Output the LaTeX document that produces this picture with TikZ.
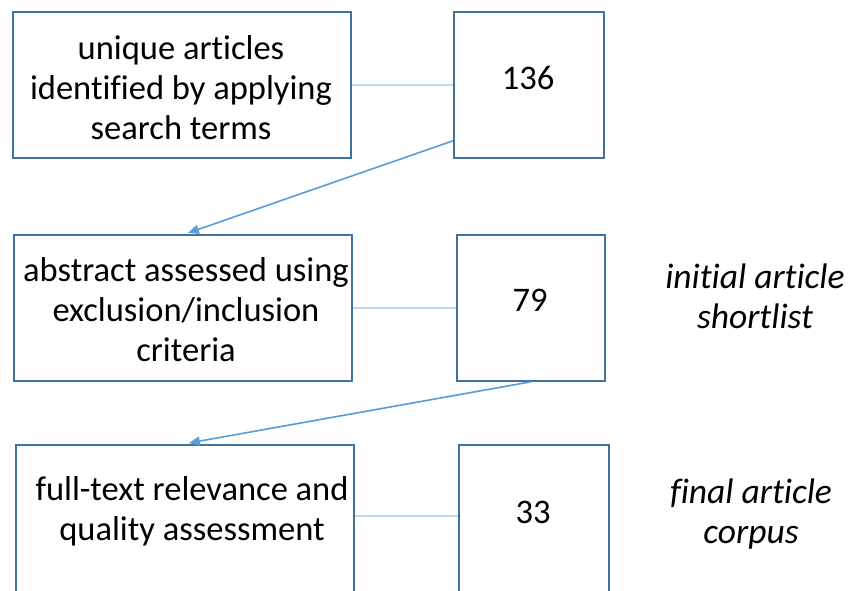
\documentclass[tikz,border=0pt]{standalone}
\usepackage{fontspec}
\setmainfont{Carlito}[Ligatures={NoCommon,NoRare,NoContextual},RawFeature={-liga;-clig;-calt;-dlig}]
\usetikzlibrary{arrows.meta,calc}
\definecolor{boxline}{HTML}{41719C}
\definecolor{arrowc}{HTML}{5B9BD5}
\definecolor{lightc}{HTML}{BDD7EE}
\tikzset{
  box/.style={draw=boxline,line width=1.8pt,minimum width=#1,inner sep=0pt,anchor=north west},
  txt/.style={font=\fontsize{34.5}{40}\selectfont,align=center,inner sep=0pt},
  side/.style={font=\fontsize{35.5}{40}\selectfont\itshape,align=center,inner sep=0pt},
  link/.style={draw=lightc,line width=1.6pt},
  flow/.style={draw=arrowc,line width=1.6pt,-{Triangle[length=11pt,width=9pt]}}
}
\begin{document}
\begin{tikzpicture}[x=1pt,y=-1pt]
\useasboundingbox (0,0) rectangle (856,590);
\clip (0,0) rectangle (856,590);
% boxes
\node[box=338pt,minimum height=146pt] (b1) at (12,11) {};
\node[box=150pt,minimum height=146pt] (n1) at (453,11) {};
\node[box=338pt,minimum height=146pt] (b2) at (13,234) {};
\node[box=148pt,minimum height=146pt] (n2) at (456,234) {};
\node[box=338pt,minimum height=160pt] (b3) at (15,444) {};
\node[box=150pt,minimum height=160pt] (n3) at (458,444) {};
% texts
\node[txt] (t1) at (181,88) {unique articles\\identified by applying\\search terms};
\node[txt] (t2) at (186,310) {abstract assessed using\\exclusion/inclusion\\criteria};
\node[txt] (t3) at (192,511) {full-text relevance and\\quality assessment};
\node[txt] (v1) at (528,78) {136};
\node[txt] (v2) at (530,300) {79};
\node[txt] (v3) at (533,512) {33};
\node[side] (s2) at (755,296) {initial article\\shortlist};
\node[side] (s3) at (751,514) {final article\\corpus};
% connectors
\draw[link] (b1.east |- 0,85) -- (n1.west |- 0,85);
\draw[link] (b2.east |- 0,308) -- (n2.west |- 0,308);
\draw[link] (b3.east |- 0,516) -- (n3.west |- 0,516);
\coordinate (a1s) at ($(n1.south west)+(0,-18)$);
\coordinate (a1e) at ($(b2.north)+(5,-1)$);
\draw[flow] (a1s) -- (a1e);
\coordinate (a2e) at ($(b3.north)+(4,-1)$);
\draw[flow] ($(n2.south)+(0,0)$) -- (a2e);
\end{tikzpicture}
\end{document}
